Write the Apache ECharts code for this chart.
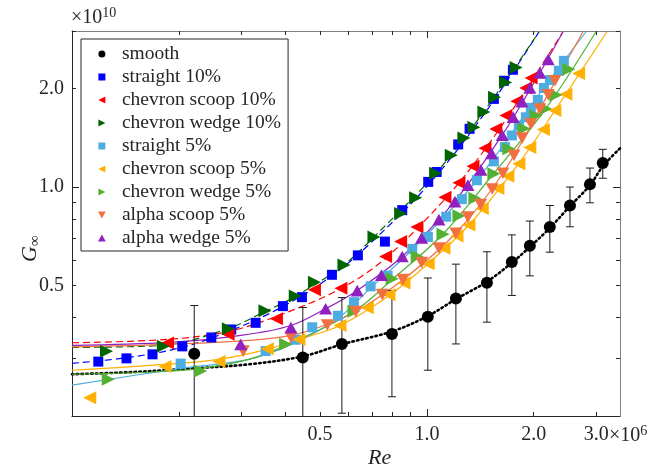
<!DOCTYPE html>
<html>
<head>
<meta charset="utf-8">
<script src="https://cdn.jsdelivr.net/npm/echarts@6/dist/echarts.min.js"></script>
<style>
html,body{margin:0;padding:0;background:#fff;}
#chart{width:660px;height:467px;}
</style>
</head>
<body>
<div id="chart"></div>
<script>
// Re is given in units of 1e6, G in units of 1e10.

// ---- measured points ----
const smoothRe  = [0.221, 0.447, 0.576, 0.797, 1.006, 1.207, 1.476, 1.735, 1.95, 2.22, 2.53, 2.88, 3.13];
const smoothG   = [0.310, 0.302, 0.332, 0.356, 0.402, 0.457, 0.511, 0.591, 0.662, 0.756, 0.879, 1.020, 1.185];
const smoothErr = [0.125, 0.127, 0.128, 0.127, 0.126, 0.125, 0.124, 0.124, 0.126, 0.123, 0.122, 0.124, 0.120];

const straight10Re = [0.1186,0.1424,0.1686,0.2045,0.2469,0.281,0.3292,0.3929,0.4445,0.540,0.639,0.7615,0.852,1.0085,1.065,1.225,1.319,1.544,1.648,1.747];
const straight10G  = [0.2932,0.300,0.3086,0.3264,0.3475,0.3676,0.3852,0.4332,0.4614,0.540,0.619,0.682,0.851,1.038,1.113,1.351,1.508,1.861,2.114,2.284];

const chevScoop10Re = [0.1858,0.2754,0.3768,0.482,0.5726,0.7649,0.8433,0.9372,1.124,1.231,1.348,1.457,1.564,1.669,1.792,1.900,1.966];
const chevScoop10G  = [0.3345,0.3556,0.3962,0.4864,0.4908,0.6141,0.682,0.7557,0.9324,1.032,1.158,1.314,1.506,1.655,1.829,2.009,2.155];

const chevWedge10Re = [0.1251,0.1808,0.2757,0.3497,0.4256,0.4820,0.5838,0.7091,0.8433,0.9294,1.058,1.171,1.271,1.356,1.447,1.551,1.666,1.784];
const chevWedge10G  = [0.3155,0.3264,0.3695,0.4191,0.4653,0.5126,0.578,0.7047,0.8308,0.929,1.103,1.251,1.414,1.525,1.696,1.881,2.090,2.321];

const straight5Re = [0.2024,0.3512,0.4267,0.4752,0.5615,0.6228,0.6942,0.7750,0.9091,1.0065,1.1334,1.255,1.383,1.544,1.659,1.735,1.816,1.900,1.963,2.054,2.136,2.221,2.354,2.432];
const straight5G  = [0.2891,0.3158,0.342,0.3733,0.4049,0.4455,0.4977,0.5364,0.6478,0.7047,0.8124,0.9195,1.050,1.199,1.326,1.439,1.543,1.635,1.747,1.847,2.009,2.125,2.268,2.432];

const chevScoop5Re = [0.1122,0.1828,0.2595,0.3549,0.4359,0.5688,0.6791,0.7816,0.8615,1.0085,1.117,1.215,1.313,1.432,1.585,1.691,1.816,1.950,2.129,2.294,2.464,2.676];
const chevScoop5G  = [0.2272,0.2831,0.2932,0.3212,0.3427,0.3780,0.4279,0.4696,0.5098,0.5834,0.6510,0.7097,0.7664,0.8615,0.9909,1.080,1.180,1.323,1.501,1.714,1.921,2.224];

const chevWedge5Re = [0.1265,0.2304,0.3999,0.6228,0.7984,0.9390,1.110,1.231,1.365,1.544,1.702,1.876,2.028,2.160,2.309,2.512];
const chevWedge5G  = [0.259,0.2746,0.3311,0.4178,0.5254,0.6141,0.7182,0.8180,0.9259,1.100,1.311,1.511,1.655,1.735,1.911,2.292];

const alphaScoop5Re = [0.3038,0.4138,0.5239,0.6297,0.7485,0.8559,0.9663,1.081,1.207,1.305,1.417,1.527,1.637,1.759,1.856,1.963,2.081,2.197,2.294];
const alphaScoop5G  = [0.3158,0.3475,0.3793,0.4170,0.4696,0.5217,0.5886,0.6510,0.7233,0.8105,0.8846,0.9874,1.103,1.251,1.412,1.560,1.732,1.913,2.114];

const alphaWedge5Re = [0.2987,0.4138,0.5184,0.6363,0.7446,0.852,0.9663,1.081,1.199,1.305,1.419,1.521,1.630,1.750,1.852,1.950,2.081,2.197];
const alphaWedge5G  = [0.3311,0.3726,0.4252,0.483,0.5389,0.6141,0.6998,0.7955,0.9034,1.014,1.130,1.269,1.442,1.638,1.825,2.009,2.236,2.458];

// ---- fitted curves ----
const smoothFitRe = [0.1,0.1447,0.2207,0.315,0.447,0.576,0.797,1.0,1.207,1.476,1.735,1.950,2.22,2.53,2.88,3.13,3.5];
const smoothFitG  = [0.2683,0.2721,0.2797,0.2877,0.3042,0.3311,0.3625,0.4026,0.455,0.5145,0.5875,0.657,0.7504,0.8754,1.014,1.158,1.314];

const straight10FitRe = [0.1,0.1447,0.2041,0.2805,0.3929,0.540,0.7091,1.013,1.447,2.068];
const straight10FitG  = [0.2897,0.3021,0.3241,0.365,0.4319,0.5364,0.690,1.021,1.667,2.979];

const chevWedge10FitRe = [0.1,0.1805,0.2755,0.3497,0.4248,0.5838,0.7091,1.060,1.447,2.068];
const chevWedge10FitG  = [0.3241,0.3287,0.3702,0.417,0.4631,0.5793,0.7047,1.103,1.702,2.979];

const chevScoop10FitRe = [0.1,0.1852,0.2755,0.3755,0.5726,0.7665,1.124,1.457,1.900,2.416];
const chevScoop10FitG  = [0.3348,0.3427,0.3625,0.4026,0.4898,0.6083,0.9195,1.305,1.986,2.979];

const alphaWedge5FitRe = [0.1,0.1876,0.2992,0.4138,0.5194,0.635,0.8503,1.199,1.627,2.081,2.416];
const alphaWedge5FitG  = [0.3287,0.3356,0.3525,0.378,0.4258,0.483,0.6128,0.9066,1.439,2.236,2.979];

const alphaScoop5FitRe = [0.1,0.1876,0.315,0.4138,0.5227,0.631,0.8559,1.207,1.637,2.192,2.751];
const alphaScoop5FitG  = [0.3253,0.3311,0.3403,0.3525,0.3806,0.417,0.5217,0.7247,1.103,1.917,2.979];

const straight5FitRe = [0.1,0.2028,0.315,0.4276,0.5655,0.6955,0.9073,1.383,2.136,2.805];
const straight5FitG  = [0.2484,0.2797,0.2979,0.3356,0.3998,0.4932,0.643,1.050,2.014,2.979];

const chevWedge5FitRe = [0.1,0.1648,0.2309,0.315,0.4007,0.6228,0.797,1.110,1.544,2.164,2.993];
const chevWedge5FitG  = [0.2683,0.2721,0.2797,0.2979,0.3287,0.417,0.5217,0.7196,1.103,1.739,2.979];

const chevScoop5FitRe = [0.1,0.1828,0.2595,0.3543,0.4359,0.5688,0.7816,1.0065,1.313,1.816,2.294,3.214];
const chevScoop5FitG  = [0.2759,0.2877,0.2979,0.3195,0.3427,0.378,0.4663,0.5834,0.7664,1.183,1.714,2.979];

// ---- axis ticks ----
const xLabelTicks = [0.5, 1, 2, 3];
const xMajorTicks = [1];
const xMinorTicks = [0.2, 0.3, 0.4, 0.5, 0.6, 0.7, 0.8, 0.9, 2, 3];
const yLabelTicks = [0.5, 1, 2];
const yMajorTicks = [1];
const yMinorTicks = [0.3, 0.4, 0.5, 0.6, 0.7, 0.8, 0.9, 2, 3];

const SERIF = '"Liberation Serif", "Times New Roman", serif';

const zip = (a, b) => a.map((v, i) => [v, b[i]]);

const TRI_L = 'path://M0,5L10,0L10,10Z';
const TRI_R = 'path://M10,5L0,0L0,10Z';
const TRI_D = 'path://M0,0L10,0L5,9Z';
const TRI_U = 'path://M0,9L10,9L5,0Z';
const SQ    = 'path://M0,0L10,0L10,10L0,10Z';

const groups = [
  { name: 'smooth',             color: '#000000', icon: 'circle', symbol: 'circle', size: 12, re: smoothRe,     g: smoothG,     fitRe: smoothFitRe,     fitG: smoothFitG,     line: { type: [1.6, 3.2], width: 2.6, cap: 'round' } },
  { name: 'straight 10%',       color: '#0000FF', icon: SQ,    symbol: 'rect', size: 10, re: straight10Re, g: straight10G, fitRe: straight10FitRe, fitG: straight10FitG, line: { type: [7, 4], width: 1.2 } },
  { name: 'chevron scoop 10%',  color: '#FF0000', icon: TRI_L, symbol: TRI_L, size: 13, re: chevScoop10Re, g: chevScoop10G, fitRe: chevScoop10FitRe, fitG: chevScoop10FitG, line: { type: [7, 4], width: 1.2 } },
  { name: 'chevron wedge 10%',  color: '#006400', icon: TRI_R, symbol: TRI_R, size: 13, re: chevWedge10Re, g: chevWedge10G, fitRe: chevWedge10FitRe, fitG: chevWedge10FitG, line: { type: [7, 4], width: 1.2 } },
  { name: 'straight 5%',        color: '#4DADE2', icon: SQ,    symbol: 'rect', size: 10, re: straight5Re, g: straight5G, fitRe: straight5FitRe, fitG: straight5FitG, line: { type: 'solid', width: 1.2 } },
  { name: 'chevron scoop 5%',   color: '#FFB000', icon: TRI_L, symbol: TRI_L, size: 13, re: chevScoop5Re, g: chevScoop5G, fitRe: chevScoop5FitRe, fitG: chevScoop5FitG, line: { type: 'solid', width: 1.2 } },
  { name: 'chevron wedge 5%',   color: '#52B032', icon: TRI_R, symbol: TRI_R, size: 13, re: chevWedge5Re, g: chevWedge5G, fitRe: chevWedge5FitRe, fitG: chevWedge5FitG, line: { type: 'solid', width: 1.2 } },
  { name: 'alpha scoop 5%',     color: '#F07040', icon: TRI_D, symbol: TRI_D, size: 13, re: alphaScoop5Re, g: alphaScoop5G, fitRe: alphaScoop5FitRe, fitG: alphaScoop5FitG, line: { type: 'solid', width: 1.2 } },
  { name: 'alpha wedge 5%',     color: '#9020C0', icon: TRI_U, symbol: TRI_U, size: 13, re: alphaWedge5Re, g: alphaWedge5G, fitRe: alphaWedge5FitRe, fitG: alphaWedge5FitG, line: { type: 'solid', width: 1.2 } }
];

function makeX(position, labels, ticks, len, showLine) {
  return {
    type: 'log', position: position, min: 0.1, max: 3.5, logBase: 10,
    axisLine: { show: showLine, lineStyle: { color: position === 'bottom' ? '#262626' : '#808080', width: 1 } },
    axisTick: { show: true, inside: true, length: len, customValues: ticks, lineStyle: { color: '#262626', width: 1 } },
    axisLabel: labels ? { show: true, customValues: labels, formatter: v => Number(v).toFixed(1), fontFamily: SERIF, fontSize: 20, color: '#262626', margin: 9 } : { show: false },
    splitLine: { show: false }, minorTick: { show: false }
  };
}
function makeY(position, labels, ticks, len, showLine) {
  return {
    type: 'log', position: position, min: 0.2, max: 3.0, logBase: 10,
    axisLine: { show: showLine, lineStyle: { color: position === 'left' ? '#262626' : '#808080', width: 1 } },
    axisTick: { show: true, inside: true, length: len, customValues: ticks, lineStyle: { color: '#262626', width: 1 } },
    axisLabel: labels ? { show: true, customValues: labels, formatter: v => Number(v).toFixed(1), fontFamily: SERIF, fontSize: 20, color: '#262626', margin: 8 } : { show: false },
    splitLine: { show: false }, minorTick: { show: false }
  };
}

const series = [];

// fitted curves underneath
groups.forEach(gp => {
  series.push({
    type: 'line', name: gp.name + ' fit', data: zip(gp.fitRe, gp.fitG),
    showSymbol: false, smooth: 0.35, silent: true, z: 2,
    lineStyle: { color: gp.color, width: gp.line.width, type: gp.line.type, cap: gp.line.cap || 'butt' },
    clip: true
  });
});

// error bars on the smooth-wall data
series.push({
  type: 'custom', name: 'smooth error', z: 3, silent: true, clip: true,
  data: smoothRe.map((r, i) => [r, smoothG[i], smoothErr[i]]),
  renderItem: (params, api) => {
    const x = api.value(0), y = api.value(1), e = api.value(2);
    const lo = api.coord([x, y - e]);
    const hi = api.coord([x, y + e]);
    const w = 4;
    const style = { stroke: '#1a1a1a', lineWidth: 1 };
    return {
      type: 'group',
      children: [
        { type: 'line', shape: { x1: lo[0], y1: lo[1], x2: hi[0], y2: hi[1] }, style },
        { type: 'line', shape: { x1: hi[0] - w, y1: hi[1], x2: hi[0] + w, y2: hi[1] }, style },
        { type: 'line', shape: { x1: lo[0] - w, y1: lo[1], x2: lo[0] + w, y2: lo[1] }, style }
      ]
    };
  }
});

// measured markers on top
groups.forEach((gp, k) => {
  series.push({
    type: 'scatter', name: gp.name, data: zip(gp.re, gp.g),
    symbol: gp.symbol, symbolSize: gp.size, symbolKeepAspect: true,
    itemStyle: { color: gp.color, opacity: 1 }, z: 4 + k * 0.01, silent: true
  });
});

const chart = echarts.init(document.getElementById('chart'), null, { renderer: 'canvas' });
chart.setOption({
  animation: false,
  backgroundColor: '#ffffff',
  grid: { left: 72, right: 40, top: 31, bottom: 51, containLabel: false },
  xAxis: [
    makeX('bottom', xLabelTicks, xMajorTicks, 7, true),
    makeX('bottom', null, xMinorTicks, 4, false),
    makeX('top', null, xMajorTicks, 7, true),
    makeX('top', null, xMinorTicks, 4, false)
  ],
  yAxis: [
    makeY('left', yLabelTicks, yMajorTicks, 7, true),
    makeY('left', null, yMinorTicks, 4, false),
    makeY('right', null, yMajorTicks, 7, true),
    makeY('right', null, yMinorTicks, 4, false)
  ],
  legend: {
    orient: 'vertical', left: 81, top: 39,
    padding: [5, 7, 3, 17], itemGap: 3, itemWidth: 30, itemHeight: 7,
    backgroundColor: '#ffffff', borderColor: '#262626', borderWidth: 1, borderRadius: 0,
    selectedMode: false, z: 20,
    textStyle: { fontFamily: SERIF, fontSize: 19.5, color: '#262626', lineHeight: 18 },
    data: groups.map(gp => ({ name: gp.name, icon: gp.icon, itemStyle: { color: gp.color } }))
  },
  series: series,
  graphic: [
    { type: 'text', left: 71, top: 6, z: 30,
      style: { text: '{a|×10}{b|10}', rich: {
        a: { fontFamily: SERIF, fontSize: 20, fill: '#262626', verticalAlign: 'bottom' },
        b: { fontFamily: SERIF, fontSize: 14, fill: '#262626', verticalAlign: 'top', padding: [0, 0, 8, 0] } } } },
    { type: 'text', left: 609, top: 424, z: 30,
      style: { text: '{a|×10}{b|6}', rich: {
        a: { fontFamily: SERIF, fontSize: 20, fill: '#262626' },
        b: { fontFamily: SERIF, fontSize: 14, fill: '#262626', padding: [0, 0, 10, 0] } } } },
    { type: 'text', x: 368, y: 447, z: 30,
      style: { text: 'Re', fontFamily: SERIF, fontSize: 22, fontStyle: 'italic', fill: '#262626' } },
    { type: 'text', x: 18, y: 262, rotation: Math.PI / 2, z: 30,
      style: { text: '{g|G}{s|∞}', rich: {
        g: { fontFamily: SERIF, fontSize: 22, fontStyle: 'italic', fill: '#262626' },
        s: { fontFamily: SERIF, fontSize: 15, fill: '#262626', padding: [10, 0, 0, 0] } } } }
  ]
});
</script>
</body>
</html>
